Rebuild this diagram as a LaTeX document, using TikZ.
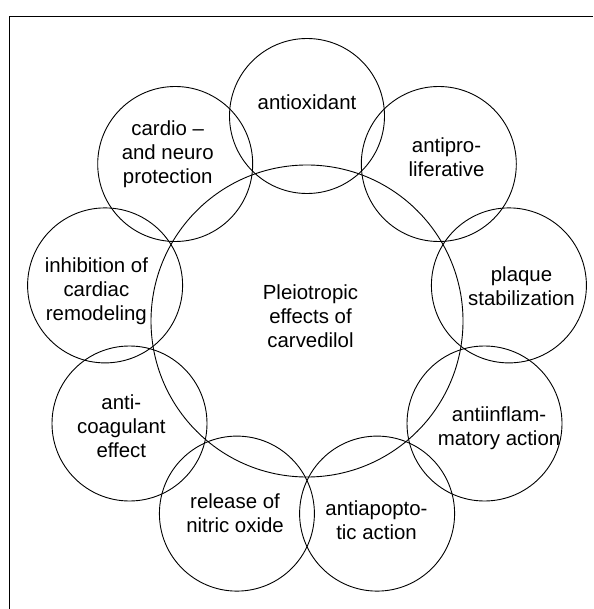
\documentclass[tikz,border=0pt]{standalone}
\usepackage{fontspec}
\setmainfont{Liberation Sans}
\begin{document}
\begin{tikzpicture}[x=1pt,y=-1pt,
  sat/.style={draw,circle,line width=0.9pt,minimum size=155pt,inner sep=0pt},
  hub/.style={draw,circle,line width=0.9pt,minimum size=312pt,inner sep=0pt},
  lbl/.style={align=center,inner sep=0pt,font=\fontsize{20.4}{24}\selectfont},
  frame/.style={line width=1.2pt}]
\useasboundingbox (0,0) rectangle (593,609);
\coordinate (fb) at (9.5,609);
\coordinate (fc) at (9.5,16.5);
\coordinate (fr) at (593,16.5);
\draw[frame] (fb) -- (fc) -- (fr);
% circles
\node[hub] (C) at (307,321) {};
\node[sat] (s1) at (307,116) {};
\node[sat] (s2) at (438.8,164.0) {};
\node[sat] (s3) at (508.9,285.4) {};
\node[sat] (s4) at (484.5,423.5) {};
\node[sat] (s5) at (377.1,513.6) {};
\node[sat] (s6) at (236.9,513.6) {};
\node[sat] (s7) at (129.5,423.5) {};
\node[sat] (s8) at (105.1,285.4) {};
\node[sat] (s9) at (175.2,164.0) {};
% labels
\node[lbl] (tC) at (310.5,316) {Pleiotropic\\effects of\\carvedilol};
\node[lbl] (t1) at (307,102.5) {antioxidant};
\node[lbl] (t2) at (446.5,157.5) {antipro-\\liferative};
\node[lbl] (t3) at (521.5,286.5) {plaque\\stabilization};
\node[lbl] (t4) at (499,428) {antiinflam-\\matory action};
\node[lbl] (t5) at (376.5,520) {antiapopto-\\tic action};
\node[lbl] (t6) at (235,513) {release of\\nitric oxide};
\node[lbl] (t7) at (121.3,426.5) {anti-\\coagulant\\effect};
\node[lbl] (t8) at (96.4,291) {inhibition of\\cardiac\\remodeling};
\node[lbl] (t9) at (167.7,154.4) {cardio –\\and neuro\\protection};
\end{tikzpicture}
\end{document}
